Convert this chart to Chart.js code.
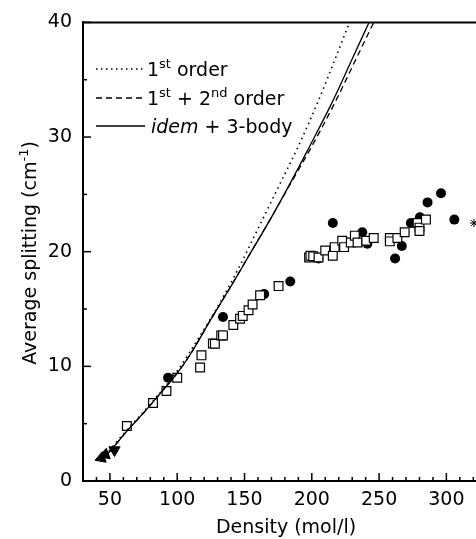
<!DOCTYPE html>
<html>
<head>
  <title>Average splitting vs density</title>
  <style>
    body { margin: 0; background: #fff; }
  </style>
</head>
<body>
  <canvas id="myChart" width="476" height="539"></canvas>
  <script src="https://cdn.jsdelivr.net/npm/chart.js@4.4.0/dist/chart.umd.min.js"></script>
  <script>
    // axis tick labels
    let xTicks = [50, 100, 150, 200, 250, 300];
    let yTicks = [0, 10, 20, 30, 40];

    // filled circles
    let circleX = [93.2, 134, 164.6, 184, 205, 215.6, 237.5, 241.3, 261.9, 266.9, 273.6, 280.3, 286, 296, 305.9];
    let circleY = [9.0, 14.3, 16.3, 17.4, 19.4, 22.5, 21.7, 20.7, 19.4, 20.5, 22.5, 23.0, 24.3, 25.1, 22.8];

    // open squares
    let squareX = [62.6, 82, 92, 100, 117, 118, 126.5, 128, 132.7, 134, 141.7, 146.7, 148.7, 153, 156, 161.6, 175.3,
      198, 199, 201, 205, 210, 215.6, 217, 222.6, 224, 229, 232, 234, 240.5, 246, 258, 258, 263.6, 269, 278.6, 280, 280, 284.8];
    let squareY = [4.8, 6.8, 7.85, 9.0, 9.9, 10.96, 12.0, 11.97, 12.7, 12.7, 13.6, 14.15, 14.4, 14.9, 15.4, 16.2, 17.0,
      19.5, 19.65, 19.6, 19.5, 20.1, 19.65, 20.4, 20.95, 20.4, 20.8, 21.4, 20.8, 20.95, 21.2, 21.2, 20.9, 21.2, 21.7, 22.5, 22.1, 21.8, 22.8];

    // filled triangles at low density
    let triX = [43.5, 46.5, 53.4];
    let triY = [2.0, 2.3, 2.7];

    // star at the right edge
    let starX = [320.5];
    let starY = [22.5];

    // model curves
    let firstX = [44, 63, 80, 100, 115, 130, 144, 160, 175, 190, 205, 218, 228];
    let firstY = [1.9, 4.5, 6.7, 9.6, 12.3, 15.2, 18.2, 22.0, 25.6, 29.2, 33.2, 37.0, 40];
    let secondX = [44, 50, 63, 77, 90, 100, 110, 125, 140, 155, 170, 185, 201, 218, 232, 246];
    let secondY = [1.9, 2.6, 4.4, 6.2, 8.0, 9.4, 11.1, 14.1, 17.0, 20.0, 23.0, 26.1, 29.4, 33.2, 36.6, 40];
    let thirdX = [44, 50, 63, 77, 90, 100, 110, 125, 140, 155, 170, 185, 198, 215, 230, 242.5];
    let thirdY = [1.9, 2.6, 4.4, 6.2, 8.0, 9.4, 11.1, 14.1, 17.0, 20.0, 23.0, 26.2, 29.1, 33.0, 36.8, 40];

    function pts(xs, ys) {
      return xs.map((x, i) => ({ x: x, y: ys[i] }));
    }

    let font = '"DejaVu Sans", sans-serif';

    // draw text pieces, some as superscripts
    function drawRich(ctx, parts, x, y) {
      parts.forEach(p => {
        let size = p.sup ? 13 : 19;
        ctx.font = (p.italic ? 'italic ' : '') + size + 'px ' + font;
        ctx.fillText(p.t, x, p.sup ? y - 8 : y);
        x += ctx.measureText(p.t).width;
      });
      return x;
    }

    function richWidth(ctx, parts) {
      let w = 0;
      parts.forEach(p => {
        ctx.font = (p.italic ? 'italic ' : '') + (p.sup ? 13 : 19) + 'px ' + font;
        w += ctx.measureText(p.t).width;
      });
      return w;
    }

    let decorations = {
      id: 'decorations',
      afterDraw(chart) {
        let ctx = chart.ctx;
        let area = chart.chartArea;
        let xs = chart.scales.x;
        let ys = chart.scales.y;
        ctx.save();
        ctx.strokeStyle = '#000';
        ctx.fillStyle = '#000';

        // top border
        ctx.lineWidth = 2;
        ctx.beginPath();
        ctx.moveTo(area.left, area.top);
        ctx.lineTo(area.right, area.top);
        ctx.stroke();

        // inward ticks
        ctx.lineWidth = 1.5;
        for (let v = 30; v <= xs.max; v += 10) {
          let px = xs.getPixelForValue(v);
          let len = v % 50 === 0 ? 8 : 4;
          ctx.beginPath();
          ctx.moveTo(px, area.bottom);
          ctx.lineTo(px, area.bottom - len);
          ctx.stroke();
        }
        for (let v = 0; v <= 40; v += 5) {
          let py = ys.getPixelForValue(v);
          let len = v % 10 === 0 ? 8 : 4;
          ctx.beginPath();
          ctx.moveTo(area.left, py);
          ctx.lineTo(area.left + len, py);
          ctx.stroke();
        }

        // legend
        let rows = [
          { dash: [1.5, 3.5], parts: [{ t: '1' }, { t: 'st', sup: true }, { t: ' order' }] },
          { dash: [6, 4], parts: [{ t: '1' }, { t: 'st', sup: true }, { t: ' + 2' }, { t: 'nd', sup: true }, { t: ' order' }] },
          { dash: [], parts: [{ t: 'idem', italic: true }, { t: ' + 3-body' }] }
        ];
        let bases = [76, 105, 133];
        ctx.textBaseline = 'alphabetic';
        ctx.textAlign = 'left';
        rows.forEach((r, i) => {
          ctx.lineWidth = 1.4;
          ctx.setLineDash(r.dash);
          ctx.beginPath();
          ctx.moveTo(96, bases[i] - 7);
          ctx.lineTo(145, bases[i] - 7);
          ctx.stroke();
          ctx.setLineDash([]);
          drawRich(ctx, r.parts, i === 2 ? 151 : 147, bases[i]);
        });

        // y title
        let yParts = [{ t: 'Average splitting (cm' }, { t: '-1', sup: true }, { t: ')' }];
        ctx.save();
        ctx.translate(36, 253);
        ctx.rotate(-Math.PI / 2);
        drawRich(ctx, yParts, -richWidth(ctx, yParts) / 2, 0);
        ctx.restore();

        // x title
        ctx.font = '19px ' + font;
        ctx.textAlign = 'center';
        ctx.fillText('Density (mol/l)', 286, 533);
        ctx.restore();
      }
    };

    let ctx = document.getElementById('myChart').getContext('2d');
    let chart = new Chart(ctx, {
      type: 'scatter',
      data: {
        datasets: [
          {
            label: '1st order', type: 'line', data: pts(firstX, firstY),
            borderColor: '#000', borderWidth: 1.6, borderDash: [1.5, 4], pointRadius: 0,
            cubicInterpolationMode: 'monotone', fill: false
          },
          {
            label: '1st + 2nd order', type: 'line', data: pts(secondX, secondY),
            borderColor: '#000', borderWidth: 1.3, borderDash: [6, 4], pointRadius: 0,
            cubicInterpolationMode: 'monotone', fill: false
          },
          {
            label: 'idem + 3-body', type: 'line', data: pts(thirdX, thirdY),
            borderColor: '#000', borderWidth: 1.3, pointRadius: 0,
            cubicInterpolationMode: 'monotone', fill: false
          },
          {
            label: 'squares', data: pts(squareX, squareY), pointStyle: 'rect',
            pointRadius: 6.2, backgroundColor: '#fff', borderColor: '#000', borderWidth: 1.2
          },
          {
            label: 'circles', data: pts(circleX, circleY), pointStyle: 'circle',
            pointRadius: 5, backgroundColor: '#000', borderColor: '#000', borderWidth: 0
          },
          {
            label: 'triangles', data: pts(triX, triY), pointStyle: 'triangle',
            pointRadius: 6.5, pointRotation: [250, 250, 180], backgroundColor: '#000', borderColor: '#000', borderWidth: 1
          },
          {
            label: 'star', data: pts(starX, starY), pointStyle: 'star',
            pointRadius: 4, backgroundColor: '#000', borderColor: '#000', borderWidth: 1
          }
        ]
      },
      options: {
        responsive: false,
        animation: false,
        events: [],
        layout: { padding: { top: 21, right: 0, left: 0, bottom: 0 }, autoPadding: false },
        plugins: { legend: { display: false }, tooltip: { enabled: false } },
        scales: {
          x: {
            type: 'linear', min: 30, max: 322,
            grid: { display: false, drawTicks: false },
            border: { display: true, color: '#000', width: 2 },
            afterBuildTicks: scale => { scale.ticks = xTicks.map(v => ({ value: v })); },
            afterFit: scale => { scale.height = 58; },
            ticks: { color: '#000', padding: 8, maxRotation: 0, font: { family: font, size: 19 } }
          },
          y: {
            type: 'linear', min: 0, max: 40,
            grid: { display: false, drawTicks: false },
            border: { display: true, color: '#000', width: 2 },
            afterBuildTicks: scale => { scale.ticks = yTicks.map(v => ({ value: v })); },
            afterFit: scale => { scale.width = 83; },
            ticks: { color: '#000', padding: 11, font: { family: font, size: 19 } }
          }
        }
      },
      plugins: [decorations]
    });
  </script>
</body>
</html>
